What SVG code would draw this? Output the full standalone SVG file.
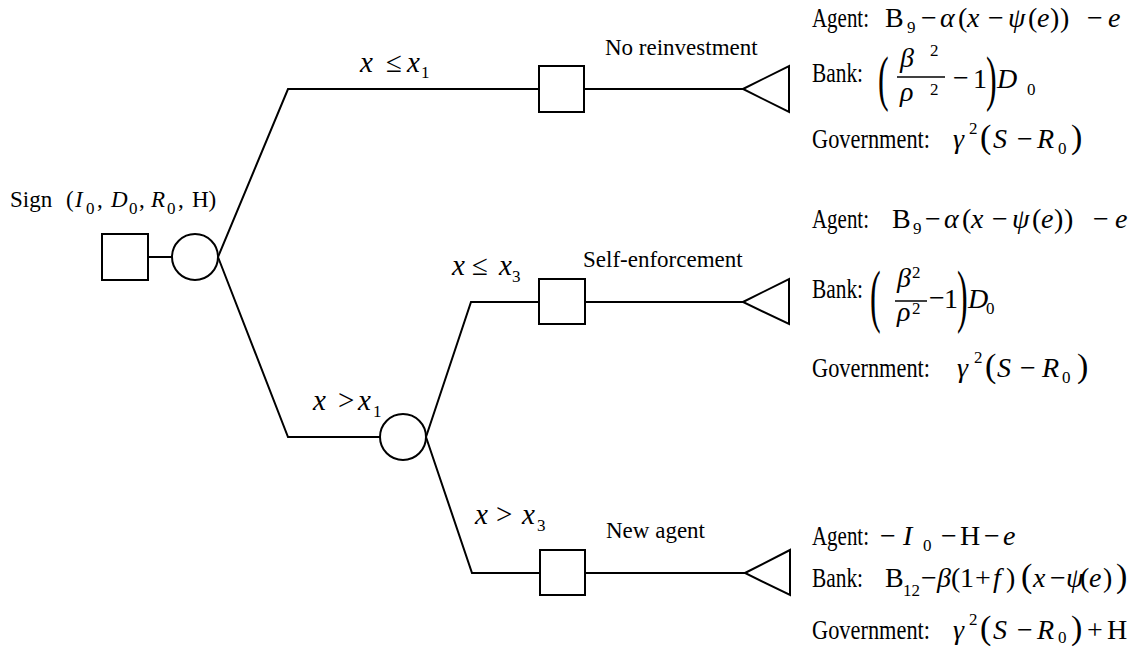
<svg xmlns="http://www.w3.org/2000/svg" width="1142" height="647" viewBox="0 0 1142 647">
<style>
.ln{fill:none;stroke:#000;stroke-width:2}
.nd{fill:#fff;stroke:#000;stroke-width:2}
text{font-family:"Liberation Serif","Times New Roman",serif;fill:#000}
.lb{font-size:23px}
.bm{font-size:29px}
.pl{font-size:27px}
.pf{font-size:28px}
.i{font-style:italic}
.s{font-size:17px}
.bp{font-size:34px}
.tp{font-size:32px}
</style>
<rect width="1142" height="647" fill="#fff"/>
<g id="connectors">
<path class="ln" d="M148,257 H172"/>
<path class="ln" d="M218,257 L288,89 H539 M584,89 H743"/>
<path class="ln" d="M218,257 L288,437 H380"/>
<path class="ln" d="M426,437 L471,302 H539 M585,302 H743"/>
<path class="ln" d="M426,437 L472,573 H540 M585,573 H745"/>
</g>
<g id="root">
<rect class="nd" x="102" y="234" width="46" height="46"/>
<text class="lb" y="207"><tspan x="10">Sign</tspan><tspan x="66">(</tspan><tspan x="75" class="i">I</tspan><tspan x="86" y="214" class="s">0</tspan><tspan x="97" y="207">,</tspan><tspan x="111" class="i">D</tspan><tspan x="129" y="214" class="s">0</tspan><tspan x="139" y="207">,</tspan><tspan x="151" class="i">R</tspan><tspan x="167" y="214" class="s">0</tspan><tspan x="178" y="207">,</tspan><tspan x="192">H)</tspan></text>
</g>
<g id="chance1"><circle class="nd" cx="195" cy="257" r="23"/></g>
<g id="chance2"><circle class="nd" cx="403" cy="437" r="23"/></g>
<g id="decision1"><rect class="nd" x="539" y="66" width="45" height="46"/></g>
<g id="decision2"><rect class="nd" x="539" y="279" width="46" height="45"/></g>
<g id="decision3"><rect class="nd" x="540" y="550" width="45" height="45"/></g>
<g id="labels">
<text class="bm" y="72"><tspan x="360" class="i">x</tspan><tspan x="386">≤</tspan><tspan x="407" class="i">x</tspan><tspan x="421" y="78" class="s">1</tspan></text>
<text class="bm" y="275"><tspan x="452" class="i">x</tspan><tspan x="472">≤</tspan><tspan x="499" class="i">x</tspan><tspan x="512" y="282" class="s">3</tspan></text>
<text class="bm" y="410"><tspan x="313" class="i">x</tspan><tspan x="338">&gt;</tspan><tspan x="358" class="i">x</tspan><tspan x="373" y="417" class="s">1</tspan></text>
<text class="bm" y="524"><tspan x="475" class="i">x</tspan><tspan x="496">&gt;</tspan><tspan x="522" class="i">x</tspan><tspan x="537" y="531" class="s">3</tspan></text>
<text class="lb" x="605" y="55">No reinvestment</text>
<text class="lb" x="583" y="267">Self-enforcement</text>
<text class="lb" x="606" y="538">New agent</text>
</g>
<g id="terminal1">
<path class="ln" d="M743,89 L789,66 V112 Z"/>
<text class="pl" x="812" y="27" textLength="57" lengthAdjust="spacingAndGlyphs">Agent:</text>
<text class="pf" y="27"><tspan x="885">B</tspan><tspan x="907" y="33" class="s">9</tspan><tspan x="921" y="27">−</tspan><tspan x="940" class="i">α</tspan><tspan x="958">(</tspan><tspan x="967" class="i">x</tspan><tspan x="988">−</tspan><tspan x="1008" class="i">ψ</tspan><tspan x="1028">(</tspan><tspan x="1037" class="i">e</tspan><tspan x="1050">)</tspan><tspan x="1060">)</tspan><tspan x="1087">−</tspan><tspan x="1108" class="i">e</tspan></text>
<text class="pl" x="812" y="82" textLength="51" lengthAdjust="spacingAndGlyphs">Bank:</text>
<text class="tp" transform="translate(878,99) scale(1,1.9)">(</text>
<text class="pf i" x="900" y="67">β</text><text class="s" x="930" y="56">2</text>
<path class="ln" d="M897,77 H945" style="stroke-width:1.5"/>
<text class="pf i" x="900" y="101">ρ</text><text class="s" x="930" y="95">2</text>
<text class="pf" x="953" y="87">−</text><text class="pf" x="973" y="88">1</text>
<text class="tp" transform="translate(986,99) scale(1,1.9)">)</text>
<text class="pf i" x="997" y="88">D</text><text class="s" x="1027" y="95">0</text>
<text class="pl" x="812" y="148" textLength="118" lengthAdjust="spacingAndGlyphs">Government:</text>
<text class="pf" y="148"><tspan x="953" class="i">γ</tspan><tspan x="969" y="134" class="s">2</tspan><tspan x="980" y="148" class="bp">(</tspan><tspan x="993" class="i">S</tspan><tspan x="1017">−</tspan><tspan x="1037" class="i">R</tspan><tspan x="1058" y="154" class="s">0</tspan><tspan x="1071" y="148" class="bp">)</tspan></text>
</g>
<g id="terminal2">
<path class="ln" d="M743,302 L789,279 V324 Z"/>
<text class="pl" x="812" y="228" textLength="57" lengthAdjust="spacingAndGlyphs">Agent:</text>
<text class="pf" y="228"><tspan x="892">B</tspan><tspan x="913" y="234" class="s">9</tspan><tspan x="925" y="228">−</tspan><tspan x="944" class="i">α</tspan><tspan x="962">(</tspan><tspan x="971" class="i">x</tspan><tspan x="992">−</tspan><tspan x="1012" class="i">ψ</tspan><tspan x="1032">(</tspan><tspan x="1041" class="i">e</tspan><tspan x="1054">)</tspan><tspan x="1064">)</tspan><tspan x="1093">−</tspan><tspan x="1115" class="i">e</tspan></text>
<text class="pl" x="812" y="298" textLength="51" lengthAdjust="spacingAndGlyphs">Bank:</text>
<text class="tp" transform="translate(870,319) scale(1,2.2)">(</text>
<text class="pf i" x="897" y="287">β</text><text class="s" x="912" y="278">2</text>
<path class="ln" d="M895,301 H927" style="stroke-width:1.5"/>
<text class="pf i" x="897" y="321">ρ</text><text class="s" x="912" y="314">2</text>
<text class="pf" x="929" y="307">−</text><text class="pf" x="944" y="308">1</text>
<text class="tp" transform="translate(957,319) scale(1,2.2)">)</text>
<text class="pf i" x="968" y="308">D</text><text class="s" x="986" y="314">0</text>
<text class="pl" x="812" y="377" textLength="118" lengthAdjust="spacingAndGlyphs">Government:</text>
<text class="pf" y="377"><tspan x="957" class="i">γ</tspan><tspan x="974" y="363" class="s">2</tspan><tspan x="985" y="377" class="bp">(</tspan><tspan x="997" class="i">S</tspan><tspan x="1020">−</tspan><tspan x="1042" class="i">R</tspan><tspan x="1062" y="383" class="s">0</tspan><tspan x="1077" y="377" class="bp">)</tspan></text>
</g>
<g id="terminal3">
<path class="ln" d="M745,573 L790,550 V595 Z"/>
<text class="pl" x="812" y="545" textLength="57" lengthAdjust="spacingAndGlyphs">Agent:</text>
<text class="pf" y="545"><tspan x="880">−</tspan><tspan x="903" class="i">I</tspan><tspan x="923" y="551" class="s">0</tspan><tspan x="941" y="545">−</tspan><tspan x="960">H</tspan><tspan x="984">−</tspan><tspan x="1003" class="i">e</tspan></text>
<text class="pl" x="812" y="587" textLength="51" lengthAdjust="spacingAndGlyphs">Bank:</text>
<text class="pf" y="587"><tspan x="885">B</tspan><tspan x="903" y="596" class="s">12</tspan><tspan x="921" y="587">−</tspan><tspan x="937" class="i">β</tspan><tspan x="951">(</tspan><tspan x="960">1</tspan><tspan x="975">+</tspan><tspan x="993" class="i">f</tspan><tspan x="1006">)</tspan><tspan x="1021" class="bp">(</tspan><tspan x="1033" class="i">x</tspan><tspan x="1050">−</tspan><tspan x="1066" class="i">ψ</tspan><tspan x="1080">(</tspan><tspan x="1089" class="i">e</tspan><tspan x="1103">)</tspan><tspan x="1116" class="bp">)</tspan></text>
<text class="pl" x="812" y="639" textLength="118" lengthAdjust="spacingAndGlyphs">Government:</text>
<text class="pf" y="639"><tspan x="953" class="i">γ</tspan><tspan x="969" y="625" class="s">2</tspan><tspan x="980" y="639" class="bp">(</tspan><tspan x="993" class="i">S</tspan><tspan x="1017">−</tspan><tspan x="1037" class="i">R</tspan><tspan x="1058" y="643" class="s">0</tspan><tspan x="1071" y="639" class="bp">)</tspan><tspan x="1087">+</tspan><tspan x="1107">H</tspan></text>
</g>
</svg>
